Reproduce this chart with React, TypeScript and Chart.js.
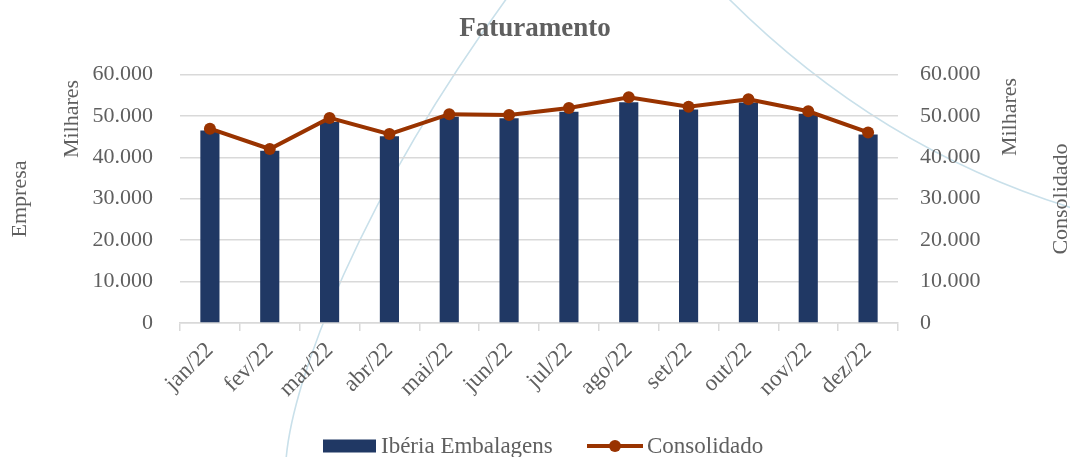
import React, { useEffect, useRef } from 'react';
import { Chart, registerables } from 'chart.js';

Chart.register(...registerables);

const categories = ['jan/22', 'fev/22', 'mar/22', 'abr/22', 'mai/22', 'jun/22', 'jul/22', 'ago/22', 'set/22', 'out/22', 'nov/22', 'dez/22'];
const empresaValues = [46450, 41600, 48500, 45100, 49800, 49400, 51000, 53300, 51500, 53200, 50500, 45500];
const consolidadoValues = [46900, 42000, 49500, 45600, 50400, 50200, 51900, 54500, 52200, 54000, 51100, 46000];
const yMin = 0;
const yMax = 60000;
const yStep = 10000;

const seriesNames = ['Ibéria Embalagens', 'Consolidado'];
const axisTitles = { leftOuter: 'Empresa', leftInner: 'Milhares', rightInner: 'Milhares', rightOuter: 'Consolidado' };
const chartTitle = 'Faturamento';

const FONT = '"Liberation Serif", "Times New Roman", serif';
const TEXT = '#5f5f5f';
const BAR = '#203864';
const LINE = '#993300';
const GRID = '#d9d9d9';

const fmt = (v: number) => String(v).replace(/\B(?=(\d{3})+(?!\d))/g, '.');

export default function App() {
  const ref = useRef<HTMLCanvasElement | null>(null);

  useEffect(() => {
    document.body.style.margin = '0';
    document.body.style.overflow = 'hidden';
    const canvas = ref.current;
    if (!canvas) return;

    const decor = {
      id: 'decor',
      beforeDraw(chart: any) {
        const ctx = chart.ctx;
        ctx.save();
        ctx.strokeStyle = '#c9e0ea';
        ctx.lineWidth = 1.6;
        ctx.beginPath();
        ctx.moveTo(286, 460);
        ctx.bezierCurveTo(292, 380, 360, 200, 507, -2);
        ctx.stroke();
        ctx.beginPath();
        ctx.moveTo(728, -2);
        ctx.bezierCurveTo(790, 60, 900, 155, 1072, 208);
        ctx.stroke();
        ctx.restore();
      },
      afterDraw(chart: any) {
        const ctx = chart.ctx;
        ctx.save();
        ctx.fillStyle = TEXT;
        ctx.font = `22px ${FONT}`;
        ctx.textAlign = 'center';
        ctx.textBaseline = 'middle';
        const rot = (text: string, x: number, y: number) => {
          ctx.save();
          ctx.translate(x, y);
          ctx.rotate(-Math.PI / 2);
          ctx.fillText(text, 0, 0);
          ctx.restore();
        };
        rot(axisTitles.leftOuter, 20, 199);
        rot(axisTitles.leftInner, 72, 119);
        rot(axisTitles.rightInner, 1010, 117);
        rot(axisTitles.rightOuter, 1061, 199);

        // legend
        ctx.font = `23px ${FONT}`;
        const ly = 446;
        ctx.fillStyle = BAR;
        ctx.fillRect(323, ly - 6.5, 53, 13);
        ctx.fillStyle = TEXT;
        ctx.textAlign = 'left';
        ctx.fillText(seriesNames[0], 381, ly + 1);
        ctx.strokeStyle = LINE;
        ctx.lineWidth = 4;
        ctx.beginPath();
        ctx.moveTo(587, ly);
        ctx.lineTo(643, ly);
        ctx.stroke();
        ctx.fillStyle = LINE;
        ctx.beginPath();
        ctx.arc(615, ly, 6, 0, Math.PI * 2);
        ctx.fill();
        ctx.fillStyle = TEXT;
        ctx.fillText(seriesNames[1], 647, ly + 1);
        ctx.restore();
      },
    };

    const chart = new Chart(canvas, {
      type: 'bar',
      data: {
        labels: categories,
        datasets: [
          {
            type: 'line',
            label: seriesNames[1],
            data: consolidadoValues,
            yAxisID: 'y1',
            borderColor: LINE,
            backgroundColor: LINE,
            borderWidth: 4,
            pointRadius: 6,
            pointBackgroundColor: LINE,
            pointBorderColor: LINE,
            pointBorderWidth: 0,
            tension: 0,
            order: 0,
          },
          {
            type: 'bar',
            label: seriesNames[0],
            data: empresaValues,
            yAxisID: 'y',
            backgroundColor: BAR,
            borderWidth: 0,
            categoryPercentage: 1,
            barPercentage: 0.32,
            order: 1,
          },
        ],
      },
      options: {
        responsive: false,
        animation: false,
        layout: { padding: { left: 0, right: 0, top: 0, bottom: 54 } },
        plugins: {
          legend: { display: false },
          tooltip: { enabled: false },
          title: {
            display: true,
            text: chartTitle,
            color: TEXT,
            font: { family: FONT, size: 27, weight: 'bold' },
            padding: { top: 13, bottom: 29 },
          },
        },
        scales: {
          x: {
            offset: true,
            grid: { display: true, drawOnChartArea: false, color: GRID, lineWidth: 1.5, tickLength: 8, offset: true },
            border: { display: true, color: GRID, width: 1.5 },
            ticks: {
              color: TEXT,
              font: { family: FONT, size: 23 },
              minRotation: 45,
              maxRotation: 45,
              padding: 6,
            },
            afterFit(scale: any) {
              scale.height = 80;
            },
          },
          y: {
            position: 'left',
            min: yMin,
            max: yMax,
            grid: { color: GRID, lineWidth: 1.5, drawTicks: false },
            border: { display: false },
            ticks: {
              stepSize: yStep,
              color: TEXT,
              font: { family: FONT, size: 22 },
              padding: 27,
              callback: (v: any) => fmt(Number(v)),
            },
            afterFit(scale: any) {
              scale.width = 180;
            },
          },
          y1: {
            position: 'right',
            min: yMin,
            max: yMax,
            grid: { display: false, drawTicks: false },
            border: { display: false },
            ticks: {
              stepSize: yStep,
              color: TEXT,
              font: { family: FONT, size: 22 },
              padding: 22,
              callback: (v: any) => fmt(Number(v)),
            },
            afterFit(scale: any) {
              scale.width = 172;
            },
          },
        },
      },
      plugins: [decor],
    } as any);

    return () => chart.destroy();
  }, []);

  return (
    <div style={{ width: 1070, height: 457, background: '#fff' }}>
      <canvas ref={ref} width={1070} height={457} style={{ display: 'block', width: 1070, height: 457 }} />
    </div>
  );
}
